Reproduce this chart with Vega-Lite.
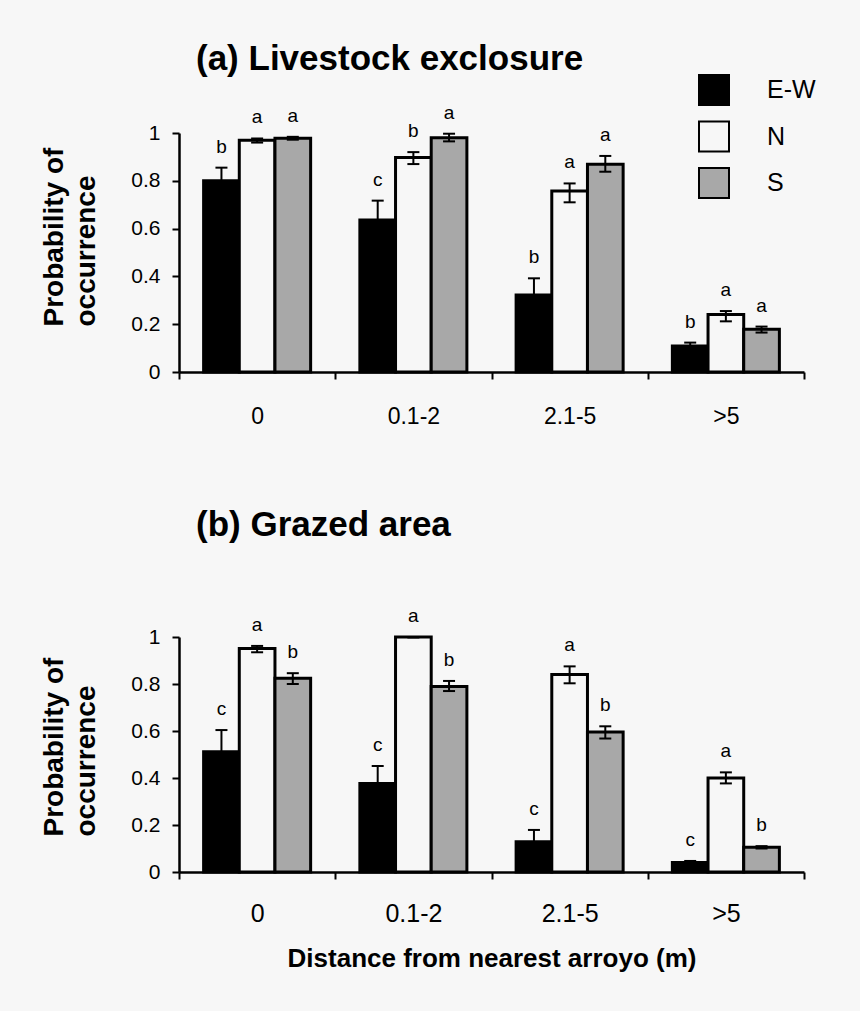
{
  "$schema": "https://vega.github.io/schema/vega-lite/v6.json",
  "background": "#f7f7f7",
  "padding": {"left": 40, "top": 42, "right": 46, "bottom": 46},
  "config": {
    "font": "Liberation Sans",
    "view": {"stroke": null},
    "axis": {"domainColor": "black", "domainWidth": 2.5, "tickColor": "black", "tickWidth": 2, "tickSize": 7, "labelColor": "black", "titleColor": "black", "grid": false, "labelFont": "Liberation Sans", "titleFont": "Liberation Sans"},
    "title": {"font": "Liberation Sans", "fontSize": 35, "fontWeight": "bold", "anchor": "start", "color": "black", "dx": 17, "baseline": "bottom", "frame": "group"},
    "legend": {"labelFont": "Liberation Sans", "labelFontSize": 25, "labelColor": "black", "symbolType": "square", "symbolSize": 900, "symbolStrokeColor": "black", "symbolStrokeWidth": 2, "labelOffset": 37, "rowPadding": 8.5, "padding": 0}
  },
  "data": {"values": [
    {"panel": "a", "dist": "0", "site": "E-W", "p": 0.80, "lo": 0.745, "hi": 0.855, "letter": "b"},
    {"panel": "a", "dist": "0", "site": "N", "p": 0.97, "lo": 0.96, "hi": 0.977, "letter": "a"},
    {"panel": "a", "dist": "0", "site": "S", "p": 0.978, "lo": 0.972, "hi": 0.984, "letter": "a"},
    {"panel": "a", "dist": "0.1-2", "site": "E-W", "p": 0.636, "lo": 0.556, "hi": 0.717, "letter": "c"},
    {"panel": "a", "dist": "0.1-2", "site": "N", "p": 0.897, "lo": 0.87, "hi": 0.92, "letter": "b"},
    {"panel": "a", "dist": "0.1-2", "site": "S", "p": 0.98, "lo": 0.965, "hi": 0.997, "letter": "a"},
    {"panel": "a", "dist": "2.1-5", "site": "E-W", "p": 0.322, "lo": 0.252, "hi": 0.392, "letter": "b"},
    {"panel": "a", "dist": "2.1-5", "site": "N", "p": 0.757, "lo": 0.71, "hi": 0.789, "letter": "a"},
    {"panel": "a", "dist": "2.1-5", "site": "S", "p": 0.869, "lo": 0.838, "hi": 0.904, "letter": "a"},
    {"panel": "a", "dist": ">5", "site": "E-W", "p": 0.109, "lo": 0.095, "hi": 0.123, "letter": "b"},
    {"panel": "a", "dist": ">5", "site": "N", "p": 0.241, "lo": 0.212, "hi": 0.255, "letter": "a"},
    {"panel": "a", "dist": ">5", "site": "S", "p": 0.179, "lo": 0.165, "hi": 0.19, "letter": "a"},
    {"panel": "b", "dist": "0", "site": "E-W", "p": 0.512, "lo": 0.42, "hi": 0.604, "letter": "c"},
    {"panel": "b", "dist": "0", "site": "N", "p": 0.951, "lo": 0.935, "hi": 0.962, "letter": "a"},
    {"panel": "b", "dist": "0", "site": "S", "p": 0.824, "lo": 0.8, "hi": 0.846, "letter": "b"},
    {"panel": "b", "dist": "0.1-2", "site": "E-W", "p": 0.377, "lo": 0.30, "hi": 0.451, "letter": "c"},
    {"panel": "b", "dist": "0.1-2", "site": "N", "p": 1.0, "lo": 0.998, "hi": 1.0, "letter": "a"},
    {"panel": "b", "dist": "0.1-2", "site": "S", "p": 0.789, "lo": 0.77, "hi": 0.813, "letter": "b"},
    {"panel": "b", "dist": "2.1-5", "site": "E-W", "p": 0.129, "lo": 0.08, "hi": 0.179, "letter": "c"},
    {"panel": "b", "dist": "2.1-5", "site": "N", "p": 0.84, "lo": 0.803, "hi": 0.875, "letter": "a"},
    {"panel": "b", "dist": "2.1-5", "site": "S", "p": 0.596, "lo": 0.568, "hi": 0.62, "letter": "b"},
    {"panel": "b", "dist": ">5", "site": "E-W", "p": 0.04, "lo": 0.033, "hi": 0.047, "letter": "c"},
    {"panel": "b", "dist": ">5", "site": "N", "p": 0.40, "lo": 0.377, "hi": 0.424, "letter": "a"},
    {"panel": "b", "dist": ">5", "site": "S", "p": 0.105, "lo": 0.1, "hi": 0.11, "letter": "b"}
  ]},
  "resolve": {"legend": {"fill": "independent"}},
  "spacing": 80,
  "vconcat": [
    {
      "title": {"text": "(a) Livestock exclosure", "offset": -3},
      "width": 625,
      "height": 239,
      "transform": [{"filter": "datum.panel === 'a'"}],
      "encoding": {
        "x": {"field": "dist", "type": "nominal", "sort": ["0", "0.1-2", "2.1-5", ">5"], "scale": {"paddingInner": 0, "paddingOuter": 0}, "axis": {"title": null, "labelAngle": 0, "tickBand": "extent", "labelFontSize": 23, "labelPadding": 26, "labelBaseline": "top"}},
        "xOffset": {"field": "site", "type": "nominal", "sort": ["E-W", "N", "S"], "scale": {"paddingInner": 0, "paddingOuter": 0.69}}
      },
      "layer": [
        {
          "mark": {"type": "bar", "stroke": "black", "strokeWidth": 3},
          "encoding": {
            "y": {"field": "p", "type": "quantitative", "scale": {"domain": [0, 1], "nice": false}, "axis": {"title": ["Probability of", "occurrence"], "titleFontSize": 28, "titleFontWeight": "bold", "titleLineHeight": 32, "titlePadding": 30, "titleAngle": -90, "titleAlign": "left", "titleY": 193, "labelFontSize": 21, "labelPadding": 12, "values": [0, 0.2, 0.4, 0.6, 0.8, 1], "format": "~g"}},
            "fill": {"field": "site", "type": "nominal", "scale": {"domain": ["E-W", "N", "S"], "range": ["black", "#f7f7f7", "#a8a8a8"]}, "legend": {"title": null, "orient": "none", "legendX": 519, "legendY": -59}}
          }
        },
        {
          "mark": {"type": "rule", "strokeWidth": 2, "color": "black"},
          "encoding": {"y": {"field": "lo", "type": "quantitative"}, "y2": {"field": "hi"}}
        },
        {
          "mark": {"type": "tick", "thickness": 2, "size": 12, "color": "black", "opacity": 1},
          "encoding": {"y": {"field": "hi", "type": "quantitative"}}
        },
        {
          "mark": {"type": "tick", "thickness": 2, "size": 12, "color": "black", "opacity": 1},
          "encoding": {"y": {"field": "lo", "type": "quantitative"}}
        },
        {
          "mark": {"type": "text", "fontSize": 19, "baseline": "alphabetic", "dy": -15, "color": "black"},
          "encoding": {"y": {"field": "hi", "type": "quantitative"}, "text": {"field": "letter"}}
        }
      ]
    },
    {
      "title": {"text": "(b) Grazed area", "offset": 64},
      "width": 625,
      "height": 235,
      "transform": [{"filter": "datum.panel === 'b'"}],
      "encoding": {
        "x": {"field": "dist", "type": "nominal", "sort": ["0", "0.1-2", "2.1-5", ">5"], "scale": {"paddingInner": 0, "paddingOuter": 0}, "axis": {"title": "Distance from nearest arroyo (m)", "titleFontSize": 26, "titleFontWeight": "bold", "titlePadding": 19, "labelAngle": 0, "tickBand": "extent", "labelFontSize": 25, "labelPadding": 22, "labelBaseline": "top"}},
        "xOffset": {"field": "site", "type": "nominal", "sort": ["E-W", "N", "S"], "scale": {"paddingInner": 0, "paddingOuter": 0.69}}
      },
      "layer": [
        {
          "mark": {"type": "bar", "stroke": "black", "strokeWidth": 3},
          "encoding": {
            "y": {"field": "p", "type": "quantitative", "scale": {"domain": [0, 1], "nice": false}, "axis": {"title": ["Probability of", "occurrence"], "titleFontSize": 28, "titleFontWeight": "bold", "titleLineHeight": 32, "titlePadding": 30, "titleAngle": -90, "titleAlign": "left", "titleY": 199, "labelFontSize": 21, "labelPadding": 12, "values": [0, 0.2, 0.4, 0.6, 0.8, 1], "format": "~g"}},
            "fill": {"field": "site", "type": "nominal", "scale": {"domain": ["E-W", "N", "S"], "range": ["black", "#f7f7f7", "#a8a8a8"]}, "legend": null}
          }
        },
        {
          "mark": {"type": "rule", "strokeWidth": 2, "color": "black"},
          "encoding": {"y": {"field": "lo", "type": "quantitative"}, "y2": {"field": "hi"}}
        },
        {
          "mark": {"type": "tick", "thickness": 2, "size": 12, "color": "black", "opacity": 1},
          "encoding": {"y": {"field": "hi", "type": "quantitative"}}
        },
        {
          "mark": {"type": "tick", "thickness": 2, "size": 12, "color": "black", "opacity": 1},
          "encoding": {"y": {"field": "lo", "type": "quantitative"}}
        },
        {
          "mark": {"type": "text", "fontSize": 19, "baseline": "alphabetic", "dy": -15, "color": "black"},
          "encoding": {"y": {"field": "hi", "type": "quantitative"}, "text": {"field": "letter"}}
        }
      ]
    }
  ]
}
